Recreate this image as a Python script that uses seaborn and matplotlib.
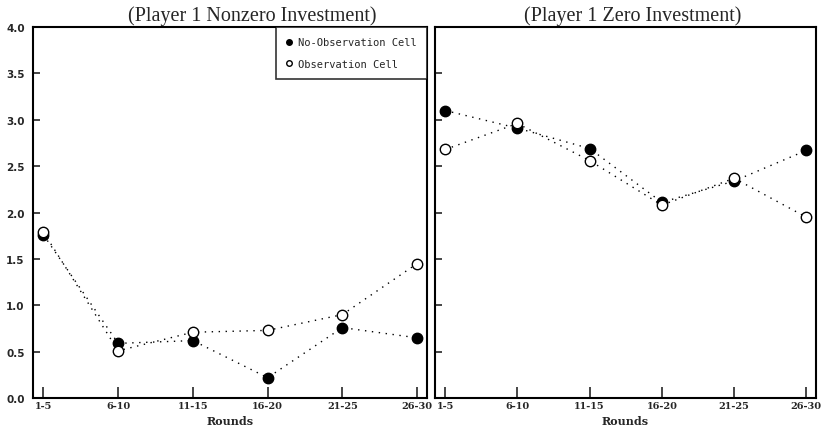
import matplotlib
matplotlib.use("Agg")
import matplotlib.pyplot as plt
from matplotlib.lines import Line2D
import seaborn as sns
import pandas as pd

rounds = ["1-5", "6-10", "11-15", "16-20", "21-25", "26-30"]

nonzero_no_obs = [1.76, 0.59, 0.62, 0.22, 0.76, 0.65]
nonzero_obs = [1.79, 0.51, 0.71, 0.73, 0.90, 1.45]

zero_no_obs = [3.10, 2.91, 2.69, 2.11, 2.34, 2.67]
zero_obs = [2.68, 2.96, 2.56, 2.08, 2.37, 1.95]

yticks = [0.0, 0.5, 1.0, 1.5, 2.0, 2.5, 3.0, 3.5, 4.0]

sns.set_theme(style="white")
plt.rcParams["font.family"] = ["DejaVu Sans"]

fig = plt.figure(figsize=(8.24, 4.31), dpi=100)
ax1 = fig.add_axes([0.040, 0.074, 0.478, 0.861])
ax2 = fig.add_axes([0.528, 0.074, 0.462, 0.861], sharey=ax1)

def draw_panel(ax, no_obs, obs):
    df = pd.DataFrame({"pos": range(len(rounds)), "no_obs": no_obs, "obs": obs})
    for col, face in (("no_obs", "black"), ("obs", "white")):
        sns.lineplot(data=df, x="pos", y=col, ax=ax, color="black",
                     linestyle=(0, (1, 4)), linewidth=1.0,
                     marker="o", markersize=7.5, markerfacecolor=face,
                     markeredgecolor="black", markeredgewidth=1.0)
    ax.set_xlim(-0.14, 5.13)
    ax.set_ylim(0, 4.0)
    ax.set_xticks(range(len(rounds)))
    ax.set_xticklabels(rounds, fontsize=7, fontweight="bold", family="DejaVu Serif")
    ax.set_yticks(yticks)
    ax.set_xlabel("Rounds", fontsize=8, fontweight="bold", family="DejaVu Serif", labelpad=4)
    ax.set_ylabel("")
    ax.tick_params(axis="x", direction="in", length=8, width=1.2, pad=2, bottom=True)
    ax.tick_params(axis="y", direction="in", length=5, width=1.2, left=True)
    for s in ax.spines.values():
        s.set_color("black")
        s.set_linewidth(1.5)

draw_panel(ax1, nonzero_no_obs, nonzero_obs)
draw_panel(ax2, zero_no_obs, zero_obs)

ax1.set_yticklabels([f"{v:.1f}" for v in yticks], fontsize=7.5, fontweight="bold")
ax1.tick_params(axis="y", pad=6)
plt.setp(ax2.get_yticklabels(), visible=False)

handles = [
    Line2D([], [], linestyle="none", marker="o", markersize=4,
           markerfacecolor="black", markeredgecolor="black", label="No-Observation Cell"),
    Line2D([], [], linestyle="none", marker="o", markersize=4,
           markerfacecolor="white", markeredgecolor="black", label="Observation Cell"),
]
leg = ax1.legend(handles=handles, loc="upper right", borderaxespad=0, fancybox=False,
                 frameon=True, edgecolor="black", handletextpad=0.5,
                 handlelength=0.6, borderpad=1.0, labelspacing=1.1,
                 prop={"family": "DejaVu Sans Mono", "size": 7.5})
leg.get_frame().set_linewidth(1.2)

fig.text(0.306, 0.962, "(Player 1 Nonzero Investment)", ha="center", va="center",
         fontsize=14.5, family="Liberation Serif")
fig.text(0.768, 0.962, "(Player 1 Zero Investment)", ha="center", va="center",
         fontsize=14.5, family="Liberation Serif")

fig.savefig("out.png", dpi=100)
